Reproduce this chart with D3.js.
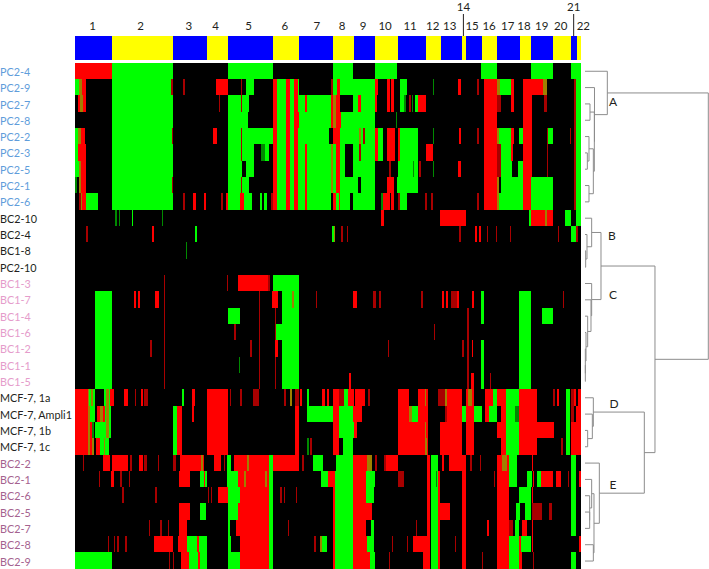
<!DOCTYPE html>
<html><head><meta charset="utf-8">
<script src="https://cdnjs.cloudflare.com/ajax/libs/d3/7.8.5/d3.min.js"></script>
<style>html,body{margin:0;padding:0;background:#fff}svg{display:block}text{font-family:Lato,"Open Sans",sans-serif}</style>
</head><body><svg id="c" width="709" height="569"></svg>
<script>
const sampleNames=["PC2-4","PC2-9","PC2-7","PC2-8","PC2-2","PC2-3","PC2-5","PC2-1","PC2-6","BC2-10","BC2-4","BC1-8","PC2-10","BC1-3","BC1-7","BC1-4","BC1-6","BC1-2","BC1-1","BC1-5","MCF-7, 1a","MCF-7, Ampli1","MCF-7, 1b","MCF-7, 1c","BC2-2","BC2-1","BC2-6","BC2-5","BC2-7","BC2-8","BC2-9"];
const sampleGroups=["pc","pc","pc","pc","pc","pc","pc","pc","pc","k","k","k","k","bc1","bc1","bc1","bc1","bc1","bc1","bc1","k","k","k","k","bc2","bc2","bc2","bc2","bc2","bc2","bc2"];
const groupColors={pc:"#5f9ddb",k:"#231f20",bc1:"#e59ccb",bc2:"#a5628f"};
// cluster bands along the gene axis: end gene of each of the 22 numbered bands
const bandEnds=[110,292,394,458,592,672,774,836,900,968,1054,1097,1160,1173,1220,1267,1334,1369,1434,1489,1505,1518];
const bandLabelPos=[52,196,341,421,520,629,725,801,864,930,1005,1073,1124,1165,1191,1242,1298,1347,1400,1457,1496,1525];
// gene runs per sample: [first gene, last gene, level]  level: 2 red, 1 dim red, -2 green, -1 dim green, 3 mixed
const R0=[[0,110,2],[110,292,-2],[458,592,-2],[773,835,-2],[899,967,-2],[1219,1266,-2],[1368,1433,-2],[1488,1518,-2]];
const R1=[[0,11,-2],[11,20,3],[20,32,2],[110,286,-2],[286,292,1],[324,328,1],[423,458,2],[496,501,1],[512,537,-2],[592,606,2],[606,633,-2],[633,644,2],[644,657,-2],[657,668,2],[668,671,-2],[768,773,1],[773,785,-2],[785,795,2],[795,899,-2],[899,910,2],[937,945,2],[949,957,2],[975,997,-2],[1075,1078,-1],[1148,1159,2],[1206,1211,1],[1228,1266,2],[1266,1275,3],[1275,1308,-2],[1308,1317,2],[1345,1405,2],[1405,1415,3],[1498,1504,1],[1504,1518,-2]];
const R2=[[7,13,2],[13,23,3],[23,32,2],[110,292,-2],[430,434,1],[458,496,-2],[496,501,1],[501,520,-2],[592,606,2],[606,633,-2],[633,644,2],[644,657,-2],[657,667,2],[667,690,-2],[690,695,2],[695,767,-2],[767,774,2],[774,784,3],[784,795,2],[835,849,-2],[849,857,2],[857,899,-2],[899,907,2],[937,945,2],[949,957,2],[975,987,-2],[987,993,-1],[1002,1009,1],[1010,1015,-1],[1021,1028,-2],[1028,1053,2],[1228,1266,2],[1266,1277,1],[1308,1317,2],[1345,1370,2],[1407,1417,1],[1498,1504,1],[1504,1518,-2]];
const R3=[[110,292,-2],[458,518,-2],[592,606,2],[606,633,-2],[633,644,2],[644,657,-2],[657,671,2],[671,767,-2],[767,774,2],[774,784,3],[784,797,2],[797,899,-2],[963,966,-1],[1228,1266,2],[1345,1370,2],[1498,1504,1],[1504,1518,-2]];
const R4=[[0,9,-2],[9,18,3],[18,29,2],[110,290,-2],[290,292,1],[413,426,2],[458,496,-2],[496,501,1],[501,592,-2],[592,606,2],[606,633,-2],[633,644,2],[644,657,-2],[657,668,2],[668,762,-2],[773,785,2],[785,795,2],[795,852,-2],[852,857,3],[857,863,-2],[863,869,1],[869,899,-2],[899,908,2],[908,923,-2],[937,959,2],[968,975,2],[975,1028,-2],[1075,1078,-1],[1152,1159,2],[1206,1211,1],[1228,1266,2],[1266,1271,3],[1271,1308,-2],[1308,1317,2],[1332,1345,-2],[1345,1370,2],[1415,1420,1],[1420,1433,-2],[1485,1489,1],[1498,1504,1],[1504,1518,-2]];
const R5=[[0,8,-2],[8,18,2],[18,32,2],[110,292,-2],[458,496,-2],[496,501,1],[501,537,-2],[558,568,-1],[568,582,-2],[592,606,2],[606,633,-2],[633,644,2],[644,657,-2],[657,668,2],[667,690,-2],[690,695,2],[695,767,-2],[767,773,3],[773,784,-2],[784,795,2],[795,811,-2],[835,852,-2],[852,857,1],[857,899,-2],[899,908,2],[908,923,-2],[937,959,2],[968,975,2],[975,1028,-2],[1053,1075,2],[1228,1266,2],[1266,1277,1],[1277,1308,-2],[1308,1315,2],[1345,1370,2],[1415,1420,1],[1498,1504,1],[1504,1518,-2]];
const R6=[[0,11,-2],[11,18,3],[18,32,2],[110,292,-2],[458,501,-2],[512,537,-2],[592,606,2],[606,633,-2],[633,644,2],[644,657,-2],[657,668,2],[667,690,-2],[690,695,2],[695,767,-2],[767,773,3],[773,784,-2],[784,795,2],[795,811,-2],[835,899,-2],[943,949,1],[968,1028,-2],[1014,1018,-1],[1033,1037,1],[1075,1078,-1],[1148,1159,2],[1228,1266,2],[1266,1277,1],[1277,1312,-2],[1330,1345,-2],[1345,1370,2],[1415,1420,1],[1498,1504,1],[1504,1518,-2]];
const R7=[[0,5,-1],[11,16,3],[16,32,2],[110,290,-2],[290,292,1],[458,496,-2],[496,501,1],[501,520,-2],[592,606,2],[606,633,-2],[633,644,2],[644,657,-2],[657,668,2],[667,690,-2],[690,695,2],[695,767,-2],[767,773,3],[773,784,-2],[784,795,2],[795,849,-2],[859,899,-2],[937,957,2],[965,1028,-2],[1228,1266,2],[1266,1271,3],[1277,1345,-2],[1345,1368,2],[1368,1433,-2],[1498,1504,1],[1504,1518,-2]];
const R8=[[11,16,1],[16,21,3],[21,32,2],[32,69,-2],[110,292,-2],[324,328,1],[352,363,2],[387,392,2],[438,443,1],[453,458,2],[458,495,-2],[495,505,2],[505,531,-2],[555,561,-2],[566,574,-2],[588,592,1],[592,606,2],[606,633,-2],[633,644,2],[644,657,-2],[657,668,2],[667,690,-2],[690,695,2],[695,768,-2],[773,783,2],[783,793,-2],[793,795,2],[795,826,-2],[835,899,-2],[919,923,-1],[923,944,2],[949,957,2],[968,975,1],[975,997,-2],[1050,1055,1],[1068,1073,1],[1206,1211,1],[1228,1266,2],[1266,1271,3],[1271,1345,-2],[1345,1368,2],[1368,1433,-2],[1498,1504,1],[1504,1518,-2]];
const R9=[[120,124,-1],[130,134,-1],[171,174,-2],[261,264,-1],[918,926,2],[1096,1172,2],[1362,1369,-2],[1369,1411,2],[1411,1417,3],[1417,1433,2],[1470,1488,-2],[1504,1518,-2]];
const R10=[[33,37,1],[231,235,2],[360,366,-2],[772,776,-2],[776,780,3],[798,804,1],[815,819,1],[1153,1158,1],[1200,1206,2],[1212,1219,2],[1235,1239,1],[1262,1266,1],[1304,1308,1],[1448,1452,1],[1488,1504,-2],[1504,1508,1]];
const R11=[[331,335,-1]];
const R12=[];
const R13=[[265,270,1],[455,459,1],[489,577,2],[577,585,1],[592,671,-2]];
const R14=[[60,110,-2],[176,182,2],[187,193,2],[240,252,2],[265,270,1],[550,554,1],[591,595,2],[597,608,2],[620,651,-2],[651,656,3],[656,671,-2],[723,727,1],[835,847,2],[894,903,1],[912,917,1],[1038,1043,1],[1101,1106,2],[1112,1120,2],[1127,1145,1],[1145,1152,2],[1190,1196,2],[1219,1228,-2],[1333,1369,-2],[1463,1467,1]];
const R15=[[60,110,-2],[265,270,1],[458,494,-2],[550,554,1],[599,603,1],[620,671,-2],[1177,1182,1],[1219,1228,-2],[1333,1369,-2],[1402,1433,-2]];
const R16=[[60,110,-2],[265,270,1],[477,482,1],[550,554,1],[599,602,1],[602,671,-2],[1077,1081,1],[1177,1182,1],[1333,1369,-2]];
const R17=[[60,110,-2],[225,229,1],[265,270,1],[525,530,1],[550,554,1],[600,607,2],[620,671,-2],[938,943,1],[1161,1166,1],[1177,1182,1],[1190,1195,2],[1219,1228,-2],[1333,1369,-2]];
const R18=[[60,110,-2],[265,270,1],[490,495,-1],[550,554,1],[599,603,1],[620,671,-2],[1177,1182,1],[1219,1228,-2],[1333,1369,-2]];
const R19=[[60,110,-2],[265,270,1],[550,554,1],[599,603,1],[620,671,-2],[823,829,2],[1177,1182,1],[1188,1197,2],[1219,1228,-2],[1245,1249,1],[1333,1369,-2]];
const R20=[[0,38,2],[38,42,3],[42,47,-2],[47,52,3],[52,58,-2],[87,92,-2],[92,100,3],[100,105,-2],[105,115,2],[147,157,2],[179,183,1],[198,203,2],[207,218,1],[320,325,-2],[350,360,2],[394,458,2],[463,467,1],[495,499,1],[533,550,1],[627,633,1],[645,650,3],[660,670,1],[675,680,2],[697,703,-2],[740,750,2],[755,763,2],[773,792,2],[792,808,1],[808,820,-2],[820,837,2],[841,871,2],[880,885,1],[968,1003,2],[1030,1050,2],[1050,1054,3],[1054,1060,2],[1090,1110,1],[1110,1115,3],[1115,1160,2],[1172,1180,2],[1180,1190,3],[1190,1197,2],[1230,1253,2],[1253,1267,-2],[1267,1293,2],[1293,1332,-2],[1332,1385,2],[1433,1440,1],[1445,1453,2],[1472,1485,-2],[1488,1497,1],[1497,1503,2],[1510,1518,2]];
const R21=[[0,38,2],[38,43,3],[43,58,-2],[66,75,2],[75,82,3],[82,88,2],[88,92,-2],[92,100,3],[100,107,-2],[292,305,-2],[305,321,2],[350,356,2],[394,458,2],[660,670,2],[697,775,-2],[775,792,2],[792,835,-2],[835,862,2],[968,1003,2],[1003,1010,3],[1010,1030,-2],[1030,1060,2],[1110,1115,1],[1115,1160,2],[1160,1172,-2],[1172,1198,2],[1198,1220,-2],[1230,1243,2],[1243,1267,-2],[1277,1293,2],[1293,1320,-2],[1320,1332,-1],[1332,1385,2],[1472,1485,-2],[1488,1497,1],[1503,1518,2]];
const R22=[[0,38,2],[38,43,3],[43,50,2],[50,55,-1],[60,92,-2],[92,100,3],[100,108,-2],[292,305,-2],[305,321,2],[394,458,2],[660,670,2],[773,792,2],[792,837,-2],[837,845,2],[968,1050,2],[1050,1054,3],[1054,1060,2],[1095,1160,2],[1172,1197,2],[1267,1293,2],[1293,1332,-2],[1332,1437,2],[1472,1485,-2],[1488,1518,2]];
const R23=[[0,38,2],[38,43,3],[43,50,2],[50,56,3],[62,75,2],[75,85,-2],[85,90,3],[90,102,-2],[292,305,-2],[305,321,2],[394,458,2],[660,670,2],[697,703,-1],[705,710,1],[773,792,2],[805,835,-2],[968,1050,2],[1050,1055,3],[1055,1060,2],[1095,1160,2],[1172,1197,2],[1277,1293,2],[1293,1332,-2],[1332,1385,2],[1458,1463,1],[1472,1485,-2],[1488,1518,2]];
const R24=[[23,26,1],[84,105,2],[110,157,2],[165,170,1],[190,203,2],[207,215,1],[247,251,1],[292,302,1],[314,378,2],[378,382,3],[382,385,2],[415,437,2],[445,449,1],[455,467,-2],[475,515,2],[515,520,3],[520,582,2],[582,592,-2],[592,670,2],[682,687,1],[713,745,-2],[782,835,-2],[835,877,2],[877,890,3],[900,905,1],[928,933,1],[933,968,2],[1055,1065,2],[1067,1090,-2],[1100,1108,2],[1122,1172,2],[1185,1191,1],[1215,1219,1],[1267,1280,2],[1280,1295,3],[1295,1302,2],[1302,1325,-2],[1370,1375,2],[1488,1503,-2]];
const R25=[[71,75,1],[108,115,2],[135,139,1],[160,165,1],[311,344,2],[375,385,-2],[385,389,2],[389,395,-2],[455,467,-2],[467,487,-2],[487,507,2],[507,512,3],[512,570,2],[570,574,3],[574,582,2],[582,592,-2],[738,760,-2],[760,780,2],[780,835,-2],[835,873,2],[873,900,-2],[968,987,1],[1055,1065,2],[1067,1083,-2],[1083,1086,-1],[1086,1090,-2],[1090,1095,2],[1160,1172,2],[1257,1260,1],[1267,1302,2],[1302,1325,-2],[1357,1370,-2],[1373,1377,2],[1387,1397,-2],[1397,1435,2],[1442,1457,2],[1479,1483,1],[1488,1503,-2],[1512,1518,2]];
const R26=[[141,145,1],[240,245,1],[397,402,1],[407,411,1],[429,457,2],[459,495,-2],[495,582,2],[582,592,-2],[615,620,1],[625,628,1],[661,666,1],[773,780,2],[780,835,-2],[835,873,2],[873,897,-2],[1055,1065,2],[1067,1090,-2],[1090,1095,2],[1160,1172,2],[1267,1302,2],[1333,1368,-2],[1370,1375,2],[1488,1503,-2]];
const R27=[[311,343,2],[375,393,-2],[459,487,-2],[487,582,2],[582,592,-2],[773,780,2],[780,835,-2],[835,890,2],[1055,1065,2],[1067,1090,-2],[1090,1125,2],[1160,1172,2],[1267,1302,2],[1322,1335,-2],[1350,1368,-2],[1372,1402,1],[1423,1430,1],[1488,1503,-2]];
const R28=[[220,224,1],[255,259,1],[278,282,1],[311,334,2],[459,465,-2],[483,582,2],[582,592,-2],[638,642,1],[773,780,2],[780,835,-2],[835,873,2],[888,897,-2],[1023,1027,1],[1055,1065,2],[1067,1090,-2],[1090,1095,2],[1160,1172,2],[1235,1241,2],[1267,1302,2],[1302,1313,1],[1321,1332,-2],[1340,1355,2],[1370,1375,2],[1488,1503,-2]];
const R29=[[97,101,1],[115,119,1],[125,130,1],[150,154,1],[237,292,2],[308,336,2],[336,366,-2],[366,370,2],[370,395,-2],[459,467,-2],[493,582,2],[582,592,-2],[717,722,1],[735,740,3],[740,755,-2],[773,780,2],[780,835,-2],[835,877,2],[877,897,-2],[951,955,1],[995,999,1],[1013,1065,2],[1067,1090,-2],[1090,1095,2],[1140,1144,1],[1160,1172,2],[1267,1302,2],[1302,1332,-2],[1332,1338,2],[1338,1368,-2],[1370,1375,2],[1513,1518,2]];
const R30=[[0,110,-2],[280,285,1],[292,296,1],[318,340,2],[340,368,-2],[368,373,2],[373,395,-2],[459,495,-2],[495,582,2],[582,592,-2],[773,780,2],[780,835,-2],[835,885,2],[885,899,-2],[942,946,1],[1045,1065,2],[1067,1090,-2],[1090,1095,2],[1160,1172,2],[1220,1225,1],[1267,1302,2],[1302,1332,-2],[1332,1342,2],[1373,1378,1],[1488,1503,-2]];
const geneRuns=[R0,R1,R2,R3,R4,R5,R6,R7,R8,R9,R10,R11,R12,R13,R14,R15,R16,R17,R18,R19,R20,R21,R22,R23,R24,R25,R26,R27,R28,R29,R30];
// dendrogram merges as [distance, child, child]; a number child is a sample index
const treeA=[67,0,[28.5,1,[28,[15,2,3],[25,[12,4,[7,5,6]],[12,7,8]]]]];
const treeB=[20,9,[6,10,[2,11,12]]];
const treeC=[20,13,[18,14,[8,15,[3,16,[1,17,[1,18,19]]]]]];
const treeD=[25,20,[22,21,[8,22,23]]];
const treeE=[43,24,[27,[20,25,[14,26,[14,27,28]]],[25,29,30]]];
const tree=[370,treeA,[210,[48,treeB,treeC],[178,treeD,treeE]]];
const clusterLetters=["A","B","C","D","E"];
const clusterLetterPos=[[84,2.65],[81,10.87],[84,14.45],[87,21.16],[84,26.12]];

const svg=d3.select("#c");
const x=d3.scaleLinear().domain([0,1518]).range([75.3,581]);
const y=d3.scaleLinear().domain([0,31]).range([62.7,568.8]);
const levelColor=d3.scaleOrdinal().domain([2,1,-2,-1,3]).range(["#ff0000","#a80000","#00ff00","#008a00","#a08000"]);
const dist=d3.scaleLinear().domain([0,370]).range([585,708.3]);

// band strip
const bands=bandEnds.map((e,i)=>({s:i?bandEnds[i-1]:0,e,i}));
svg.append("g").attr("shape-rendering","crispEdges").selectAll("rect").data(bands).join("rect")
 .attr("x",d=>x(d.s)).attr("width",d=>x(d.e)-x(d.s)).attr("y",36.4).attr("height",24)
 .attr("fill",d=>d.i%2?"#ffff00":"#0000ff");
const raised=new Set([13,20]);
svg.append("g").selectAll("text").data(bands).join("text")
 .attr("x",d=>x(bandLabelPos[d.i])).attr("y",d=>raised.has(d.i)?11:30).attr("text-anchor","middle")
 .attr("font-size",11.5).attr("fill","#231f20").text(d=>d.i+1);
svg.append("g").selectAll("line").data(bands.filter(d=>raised.has(d.i))).join("line")
 .attr("x1",d=>x(bandLabelPos[d.i])).attr("x2",d=>x(bandLabelPos[d.i]))
 .attr("y1",14).attr("y2",36).attr("stroke","#231f20").attr("stroke-width",1);

// heat map
const heat=svg.append("g").attr("shape-rendering","crispEdges");
heat.append("rect").attr("x",x(0)).attr("y",y(0)).attr("width",x(1518)-x(0)).attr("height",y(31)-y(0)).attr("fill","#000");
const rows=heat.append("g").selectAll("g").data(geneRuns).join("g");
rows.selectAll("rect").data((d,i)=>d.map(r=>({r,i}))).join("rect")
 .attr("x",d=>x(d.r[0])).attr("width",d=>x(d.r[1])-x(d.r[0]))
 .attr("y",d=>y(d.i)).attr("height",d=>y(d.i+1)-y(d.i))
 .attr("fill",d=>levelColor(d.r[2]));

// sample labels
svg.append("g").selectAll("text").data(sampleNames).join("text")
 .attr("x",0).attr("y",(d,i)=>y(i+.5)+5).attr("font-size",10.8)
 .attr("fill",(d,i)=>groupColors[sampleGroups[i]]).text(d=>d);

// dendrogram
const links=[];
function place(n){
 if(typeof n==="number")return {h:0,c:n+.5};
 const a=place(n[1]),b=place(n[2]);
 links.push([[a.h,a.c],[n[0],a.c],[n[0],b.c],[b.h,b.c]]);
 return {h:n[0],c:(a.c+b.c)/2};
}
place(tree);
const line=d3.line().x(p=>dist(p[0])).y(p=>y(p[1])+.4);
svg.append("g").selectAll("path").data(links).join("path").attr("d",line)
 .attr("fill","none").attr("stroke","#8c8c8c").attr("stroke-width",1);
svg.append("g").selectAll("text").data(clusterLetters).join("text")
 .attr("x",(d,i)=>dist(clusterLetterPos[i][0])).attr("y",(d,i)=>y(clusterLetterPos[i][1]))
 .attr("font-size",12).attr("fill","#231f20").attr("text-anchor","middle").text(d=>d);
</script></body></html>
